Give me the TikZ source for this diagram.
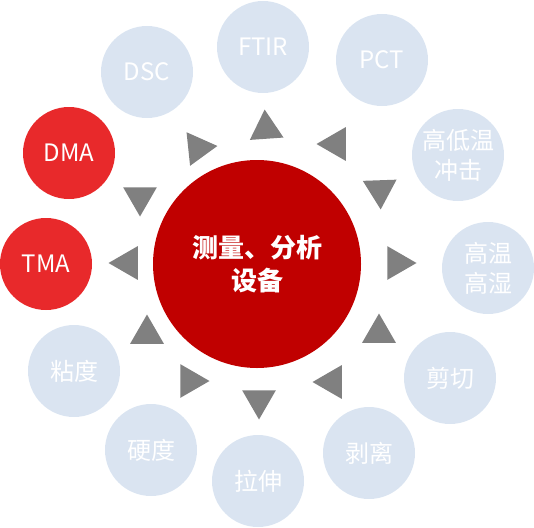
\documentclass[tikz,border=0pt]{standalone}
\usepackage{fontspec}
\setmainfont{Noto Sans CJK SC}
\usepackage{xcolor}
\usetikzlibrary{shapes.geometric}

\definecolor{hubred}{HTML}{C00000}
\definecolor{satred}{HTML}{E8292B}
\definecolor{satblue}{HTML}{DAE4F1}
\definecolor{trigray}{HTML}{808080}

\begin{document}
\begin{tikzpicture}[
  x=1pt, y=-1pt,
  hub/.style={circle, fill=hubred, minimum size=208pt, inner sep=0pt,
    text=white, font=\fontsize{26}{33}\selectfont\bfseries, align=center},
  sat/.style={circle, fill=satblue, minimum size=92pt, inner sep=0pt,
    text=white, font=\fontsize{24}{30}\selectfont, align=center},
  hot/.style={sat, fill=satred},
  pointer/.style={regular polygon, regular polygon sides=3, fill=trigray,
    minimum size=39pt, inner sep=0pt}
]
\useasboundingbox (0,0) rectangle (534,527);

% centre
\node[hub] (hub) at (257,264) {测量、分析\\设备};

% ring of methods
\node[sat] (dsc)   at (147,72)  {DSC};
\node[sat] (ftir)  at (263,47)  {FTIR};
\node[sat] (pct)   at (382,60)  {PCT};
\node[sat] (shock) at (458,155) {高低温\\冲击};
\node[sat] (humid) at (488,268) {高温\\高湿};
\node[sat] (shear) at (450,378) {剪切};
\node[sat] (peel)  at (369,453) {剥离};
\node[sat] (pull)  at (258,481) {拉伸};
\node[sat] (hard)  at (151,450) {硬度};
\node[sat] (visc)  at (74,371)  {粘度};
\node[hot] (dma)   at (69,153)  {DMA};
\node[hot] (tma)   at (46,264)  {TMA};

% pointers
\node[pointer, rotate=4]   (p1)  at (266,129) {};
\node[pointer, rotate=90]  (p2)  at (336,144) {};
\node[pointer, rotate=182] (p3)  at (380,190) {};
\node[pointer, rotate=-90] (p4)  at (397,263) {};
\node[pointer]             (p5)  at (379,333) {};
\node[pointer, rotate=90]  (p6)  at (332,382) {};
\node[pointer, rotate=180] (p7)  at (259,400) {};
\node[pointer, rotate=-90] (p8)  at (190,381) {};
\node[pointer]             (p9)  at (147,334) {};
\node[pointer, rotate=90]  (p10) at (128,263) {};
\node[pointer, rotate=180] (p11) at (140,197) {};
\node[pointer, rotate=-84] (p12) at (198,148) {};
\end{tikzpicture}
\end{document}
